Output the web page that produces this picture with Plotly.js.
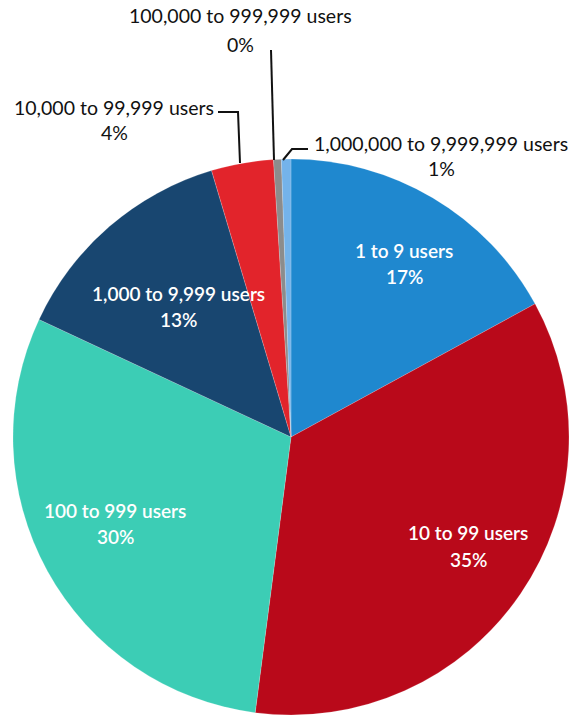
<!DOCTYPE html>
<html>
<head>
<meta charset="utf-8">
<script src="https://cdn.plot.ly/plotly-3.0.1.min.js"></script>
<style>
  html, body { margin: 0; padding: 0; background: #ffffff; }
  #chart { width: 578px; height: 719px; }
</style>
</head>
<body>
<div id="chart"></div>
<script>
// ---- data ----
const categories = [
  "1 to 9 users",
  "10 to 99 users",
  "100 to 999 users",
  "1,000 to 9,999 users",
  "10,000 to 99,999 users",
  "100,000 to 999,999 users",
  "1,000,000 to 9,999,999 users"
];
const shares = [17.0, 34.9, 29.8, 13.4, 3.6, 0.45, 0.55];
const sliceColors = ["#1F88CF", "#B9091A", "#3CCDB5", "#184670", "#E2242B", "#8C8C8C", "#74B3EA"];

// ---- helpers ----
const W = 578, H = 719;
const px = x => x / W;
const py = y => 1 - y / H;
const total = shares.reduce((a, b) => a + b, 0);
const pctText = i => Math.round(shares[i] / total * 100) + "%";

// label placement (pixel coords of the label's two lines)
const insideLabels = [
  {i: 0, x: 404, y1: 250, y2: 276},
  {i: 1, x: 468, y1: 532, y2: 559},
  {i: 2, x: 115, y1: 510, y2: 536},
  {i: 3, x: 178, y1: 293, y2: 319}
];
const outsideLabels = [
  {i: 4, x: 114, y1: 107, y2: 132},
  {i: 5, x: 240, y1: 16, y2: 44},
  {i: 6, x: 441, y1: 143, y2: 168}
];

const fontFam = "Lato, 'Open Sans', sans-serif";
const annotations = [];
insideLabels.forEach(l => {
  annotations.push({xref: "paper", yref: "paper", x: px(l.x), y: py(l.y1), text: categories[l.i],
    showarrow: false, xanchor: "center", yanchor: "middle",
    font: {family: fontFam, size: 19, color: "#ffffff", weight: 600}});
  annotations.push({xref: "paper", yref: "paper", x: px(l.x), y: py(l.y2), text: pctText(l.i),
    showarrow: false, xanchor: "center", yanchor: "middle",
    font: {family: fontFam, size: 19, color: "#ffffff", weight: 600}});
});
outsideLabels.forEach(l => {
  annotations.push({xref: "paper", yref: "paper", x: px(l.x), y: py(l.y1), text: categories[l.i],
    showarrow: false, xanchor: "center", yanchor: "middle",
    font: {family: fontFam, size: 19.5, color: "#111111"}});
  annotations.push({xref: "paper", yref: "paper", x: px(l.x), y: py(l.y2), text: pctText(l.i),
    showarrow: false, xanchor: "center", yanchor: "middle",
    font: {family: fontFam, size: 19.5, color: "#111111"}});
});

// leader lines (pixel paths)
const leaders = [
  [[218, 112], [238, 112], [240, 163]],
  [[271, 50], [274, 160]],
  [[308, 149], [292, 149], [283, 160]]
];
const shapes = leaders.map(pts => ({
  type: "path", xref: "paper", yref: "paper",
  path: pts.map((p, k) => (k ? "L" : "M") + px(p[0]) + "," + py(p[1])).join(" "),
  line: {color: "#111111", width: 2}
}));

// pie center (291,437), radius 278 in pixels
const trace = {
  type: "pie",
  labels: categories,
  values: shares,
  sort: false,
  direction: "clockwise",
  rotation: 0,
  textinfo: "none",
  hoverinfo: "label+percent",
  marker: {colors: sliceColors, line: {color: "rgba(255,255,255,0.35)", width: 0.5}},
  domain: {x: [px(291 - 278), px(291 + 278)], y: [py(437 + 278), py(437 - 278)]},
  showlegend: false
};

const layout = {
  width: W, height: H,
  margin: {l: 0, r: 0, t: 0, b: 0},
  paper_bgcolor: "#ffffff",
  showlegend: false,
  annotations: annotations,
  shapes: shapes
};

Plotly.newPlot("chart", [trace], layout, {displayModeBar: false, staticPlot: true});
</script>
</body>
</html>
